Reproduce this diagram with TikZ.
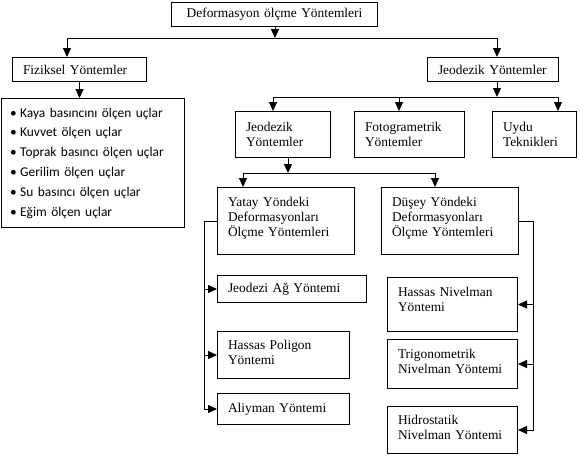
\documentclass[tikz,border=0pt]{standalone}
\usepackage{fontspec}
\setmainfont{Liberation Serif}
\newfontfamily\listfont{Carlito}
\usetikzlibrary{arrows.meta}
\tikzstyle{box} = [draw, line width=1pt, anchor=north west, align=left, inner xsep=10.5pt, inner ysep=0pt, font=\fontsize{13.4}{15}\selectfont]
\tikzstyle{link} = [line width=1pt]
\tikzstyle{arrow} = [line width=1pt,->,>={Triangle[length=9pt,width=8pt]}]

\begin{document}
\begin{tikzpicture}[x=1pt,y=-1pt]
    \useasboundingbox (0,0) rectangle (580,458);
    \node [box, align=center, text width=185pt, minimum height=24pt] at (171,2) (deform) {Deformasyon ölçme Yöntemleri};
    \node [box, text width=113pt, minimum height=24pt] at (12,57) (fiziksel) {Fiziksel Yöntemler};
    \node [box, text width=110pt, minimum height=24pt] at (427,57) (jeodezik) {Jeodezik Yöntemler};
    \node [box, text width=166pt, minimum height=129pt, inner xsep=8.5pt, font=\listfont\fontsize{13.4}{19.8}\selectfont] at (1,98) (liste) {\textbullet\hspace{3.5pt}Kaya basıncını ölçen uçlar\\ \textbullet\hspace{3.5pt}Kuvvet ölçen uçlar\\ \textbullet\hspace{3.5pt}Toprak basıncı ölçen uçlar\\ \textbullet\hspace{3.5pt}Gerilim ölçen uçlar\\ \textbullet\hspace{3.5pt}Su basıncı ölçen uçlar\\ \textbullet\hspace{3.5pt}Eğim ölçen uçlar};
    \node [box, text width=74pt, minimum height=46pt] at (235,111) (jeo2) {Jeodezik\\ Yöntemler};
    \node [box, text width=89pt, minimum height=46pt] at (354,111) (foto) {Fotogrametrik\\ Yöntemler};
    \node [box, text width=63pt, minimum height=46pt] at (492,111) (uydu) {Uydu\\ Teknikleri};
    \node [box, text width=116pt, minimum height=67pt, text depth=39pt] at (217,187) (yatay) {Yatay Yöndeki\\ Deformasyonları\\ Ölçme Yöntemleri};
    \node [box, text width=116pt, minimum height=67pt, text depth=39pt] at (381,187) (dusey) {Düşey Yöndeki\\ Deformasyonları\\ Ölçme Yöntemleri};
    \node [box, text width=128pt, minimum height=27pt] at (217,275) (ag) {Jeodezi Ağ Yöntemi};
    \node [box, text width=111pt, minimum height=47pt, text depth=20pt] at (217,331) (poligon) {Hassas Poligon\\ Yöntemi};
    \node [box, text width=111pt, minimum height=31pt] at (217,393) (aliyman) {Aliyman Yöntemi};
    \node [box, text width=109pt, minimum height=54pt, text depth=25pt] at (387,277) (nivelman) {Hassas Nivelman\\ Yöntemi};
    \node [box, text width=109pt, minimum height=49pt, text depth=21pt] at (387,339) (trigo) {Trigonometrik\\ Nivelman Yöntemi};
    \node [box, text width=109pt, minimum height=47pt, text depth=21pt] at (387,406) (hidro) {Hidrostatik\\ Nivelman Yöntemi};
    \coordinate (c1) at (275,38);
    \coordinate (c1a) at (67,38);
    \coordinate (c1b) at (497,38);
    \coordinate (c2) at (497,97);
    \coordinate (c2a) at (273,97);
    \coordinate (c2b) at (399,97);
    \coordinate (c2c) at (558,97);
    \coordinate (c3) at (288,173);
    \coordinate (c3a) at (243,173);
    \coordinate (c3b) at (435,173);
    \draw [arrow] (c1 |- deform.south) -- (c1);
    \draw [link] (c1a) -- (c1b);
    \draw [arrow] (c1a) -- (c1a |- fiziksel.north);
    \draw [arrow] (c1b) -- (c1b |- jeodezik.north);
    \draw [arrow] (fiziksel.south) -- (fiziksel.south |- liste.north);
    \draw [arrow] (c2 |- jeodezik.south) -- (c2);
    \draw [link] (c2a) -- (c2c);
    \draw [arrow] (c2a) -- (c2a |- jeo2.north);
    \draw [arrow] (c2b) -- (c2b |- foto.north);
    \draw [arrow] (c2c) -- (c2c |- uydu.north);
    \draw [arrow] (c3 |- jeo2.south) -- (c3);
    \draw [link] (c3a) -- (c3b);
    \draw [arrow] (c3a) -- (c3a |- yatay.north);
    \draw [arrow] (c3b) -- (c3b |- dusey.north);
    \draw [arrow] (yatay.west) -| ([xshift=-13pt]aliyman.west) -- (aliyman.west);
    \draw [arrow] ([xshift=-13pt]ag.west) -- (ag.west);
    \draw [arrow] ([xshift=-13pt]poligon.west) -- (poligon.west);
    \draw [arrow] (dusey.east) -| ([xshift=15pt]hidro.east) -- (hidro.east);
    \draw [arrow] ([xshift=15pt]nivelman.east) -- (nivelman.east);
    \draw [arrow] ([xshift=15pt]trigo.east) -- (trigo.east);
\end{tikzpicture}
\end{document}
